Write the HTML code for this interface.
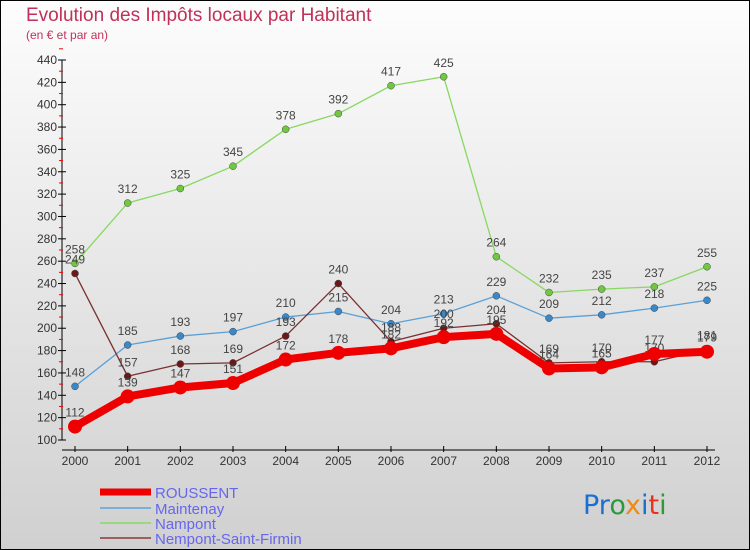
<!DOCTYPE html>
<html><head><meta charset="utf-8"><style>
body{margin:0;width:750px;height:550px;overflow:hidden;font-family:"Liberation Sans",sans-serif}
svg{display:block}
</style></head><body>
<svg id="c" width="750" height="550" xmlns="http://www.w3.org/2000/svg">
<defs><linearGradient id="bg" x1="0" y1="0" x2="0" y2="1"><stop offset="0" stop-color="#fdfdfd"/><stop offset="1" stop-color="#d0d0d0"/></linearGradient></defs>
<rect x="0.5" y="0.5" width="749" height="549" fill="url(#bg)" stroke="#000"/>
<text x="26" y="21" font-size="19" fill="#c0305a">Evolution des Impôts locaux par Habitant</text>
<text x="26" y="39" font-size="12" fill="#c0305a">(en € et par an)</text>
<g id="axes"></g><g id="series"></g><g id="legend"></g>
<text x="583" y="514" font-size="27" font-family="'DejaVu Sans',sans-serif"><tspan fill="#1a6fd0">Pr</tspan><tspan fill="#2a9a3a">o</tspan><tspan fill="#f08a10">x</tspan><tspan fill="#1a6fd0">i</tspan><tspan fill="#e83020">t</tspan><tspan fill="#2a9a3a">i</tspan></text>
</svg>
<script>
const years=[2000,2001,2002,2003,2004,2005,2006,2007,2008,2009,2010,2011,2012];
const roussent=[112,139,147,151,172,178,182,192,195,164,165,177,179];
const maintenay=[148,185,193,197,210,215,204,213,229,209,212,218,225];
const nampont=[258,312,325,345,378,392,417,425,264,232,235,237,255];
const nempont=[249,157,168,169,193,240,188,200,204,169,170,170,181];
const yTicks=[100,120,140,160,180,200,220,240,260,280,300,320,340,360,380,400,420,440];
const NS="http://www.w3.org/2000/svg";
const x=i=>75+i*(707-75)/(years.length-1);
const y=v=>440-(v-100)*380/340;
function mk(t,a,p){const e=document.createElementNS(NS,t);for(const k in a)e.setAttribute(k,a[k]);p.appendChild(e);return e;}
const ax=document.getElementById('axes');
let l=mk('line',{x1:62,y1:y(440),x2:62,y2:y(100),stroke:'#000'},ax);


yTicks.forEach(v=>{
 mk('line',{x1:58,y1:y(v),x2:66,y2:y(v),stroke:'#000'},ax);
 mk('line',{x1:59,y1:y(v+10),x2:63,y2:y(v+10),stroke:'#e00'},ax);
 const t=mk('text',{x:57,y:y(v)+4,'font-size':12,fill:'#333','text-anchor':'end'},ax);t.textContent=v;
 
 
});
l=mk('line',{x1:62,y1:450,x2:715,y2:450,stroke:'#000'},ax);


years.forEach((yr,i)=>{
 mk('line',{x1:x(i),y1:446,x2:x(i),y2:452,stroke:'#000'},ax);
 const t=mk('text',{x:x(i),y:465,'font-size':12,fill:'#333','text-anchor':'middle'},ax);t.textContent=yr;
 
 
});
const sg=document.getElementById('series');
const defs=[
 {n:'nampont',d:nampont,c:'#88d860',w:1.3,r:3.5,fc:'#70c840'},
 {n:'maintenay',d:maintenay,c:'#5aa0d8',w:1.3,r:3.5,fc:'#3a88c8'},
 {n:'nempont-saint-firmin',d:nempont,c:'#7a3030',w:1.3,r:3.5,fc:'#6a1818'},
 {n:'roussent',d:roussent,c:'#ee0000',w:8,r:7,fc:'#ee0000'}
];
defs.forEach(s=>{
 const g=mk('g',{},sg);
 
 
 const p=mk('polyline',{points:s.d.map((v,i)=>x(i)+','+y(v)).join(' '),fill:'none',stroke:s.c,'stroke-width':s.w,'stroke-linejoin':'round'},g);
 
 
 s.d.forEach((v,i)=>{
  const c=mk('circle',{cx:x(i),cy:y(v),r:s.r,fill:s.fc,stroke:s.n==='roussent'?'none':'#444','stroke-width':0.5},g);
  
  
  const t=mk('text',{x:x(i),y:y(v)-10,'font-size':12,fill:'#444','text-anchor':'middle'},g);t.textContent=v;
  
  
 });
});
const lg=document.getElementById('legend');
[['ROUSSENT','#ee0000',7,492],['Maintenay','#7ab0d8',2,508],['Nampont','#98d880',2,523],['Nempont-Saint-Firmin','#9a6060',2,538]].forEach(e=>{
 const g=mk('g',{},lg);
 
 
 mk('line',{x1:100,y1:e[3],x2:151,y2:e[3],stroke:e[1],'stroke-width':e[2]},g);
 const t=mk('text',{x:155,y:e[3]+6,'font-size':15,fill:'#6666ee'},g);t.textContent=e[0];
});
</script>
</body></html>
